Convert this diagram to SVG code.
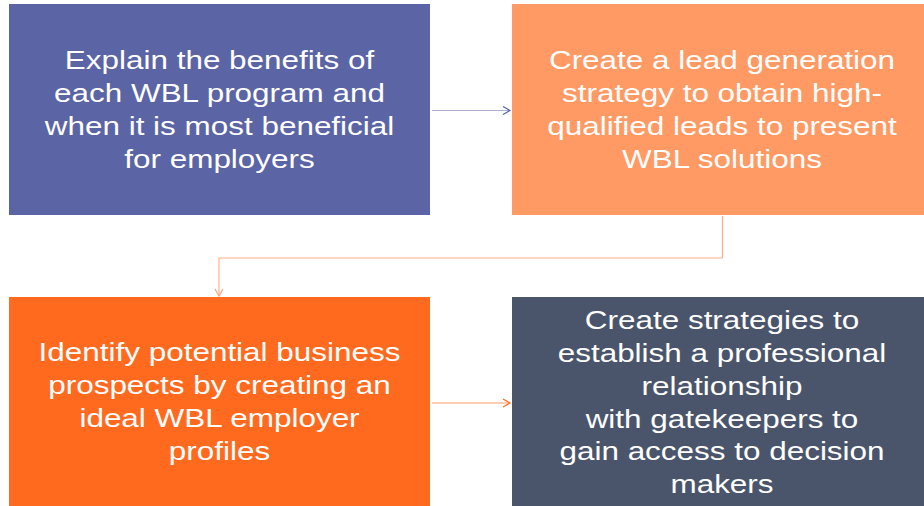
<svg xmlns="http://www.w3.org/2000/svg" width="924" height="506" viewBox="0 0 924 506">
<style>
.t{font-family:"Liberation Sans",Arial,sans-serif;font-size:26px;fill:#fff;text-anchor:middle}
.c{fill:none;stroke-width:1.2}
</style>
<defs>
<marker id="a1" markerWidth="10" markerHeight="10" refX="8" refY="5" orient="auto" markerUnits="userSpaceOnUse"><path d="M1,1 L8,5 L1,9" fill="none" stroke="#5b64a4" stroke-width="1.2"/></marker>
<marker id="a2" markerWidth="10" markerHeight="10" refX="8" refY="5" orient="auto" markerUnits="userSpaceOnUse"><path d="M1,1 L8,5 L1,9" fill="none" stroke="#ffa27a" stroke-width="1.2"/></marker>
<marker id="a3" markerWidth="10" markerHeight="10" refX="8" refY="5" orient="auto" markerUnits="userSpaceOnUse"><path d="M1,1 L8,5 L1,9" fill="none" stroke="#ff6a22" stroke-width="1.2"/></marker>
</defs>
<rect width="924" height="506" fill="#fff"/>
<g id="connectors">
<path class="c" d="M432,110.5 H510" stroke="#a9aed3" marker-end="url(#a1)"/>
<path class="c" d="M722.5,216 V258 H219 V296" stroke="#ffb08a" marker-end="url(#a2)"/>
<path class="c" d="M432,403 H510" stroke="#ff9a6a" marker-end="url(#a3)"/>
</g>
<g id="n1">
<rect x="9" y="4" width="421" height="211" fill="#5b64a4"/>
<text class="t" transform="translate(219.5,0) scale(1.21,1)"><tspan x="0" y="69.5">Explain the benefits of</tspan><tspan x="0" y="102.3">each WBL program and</tspan><tspan x="0" y="135.1">when it is most beneficial</tspan><tspan x="0" y="167.9">for employers</tspan></text>
</g>
<g id="n2">
<rect x="512" y="4" width="412" height="211" fill="#ff9a64"/>
<text class="t" transform="translate(722,0) scale(1.21,1)"><tspan x="0" y="69.5">Create a lead generation</tspan><tspan x="0" y="102.3">strategy to obtain high-</tspan><tspan x="0" y="135.1">qualified leads to present</tspan><tspan x="0" y="167.9">WBL solutions</tspan></text>
</g>
<g id="n3">
<rect x="9" y="297" width="421" height="209" fill="#ff6a1f"/>
<text class="t" transform="translate(219.5,0) scale(1.21,1)"><tspan x="0" y="361.3">Identify potential business</tspan><tspan x="0" y="394.1">prospects by creating an</tspan><tspan x="0" y="426.9">ideal WBL employer</tspan><tspan x="0" y="459.7">profiles</tspan></text>
</g>
<g id="n4">
<rect x="512" y="297" width="412" height="209" fill="#4a556b"/>
<text class="t" transform="translate(722,0) scale(1.21,1)"><tspan x="0" y="329.2">Create strategies to</tspan><tspan x="0" y="362">establish a professional</tspan><tspan x="0" y="394.8">relationship</tspan><tspan x="0" y="427.6">with gatekeepers to</tspan><tspan x="0" y="460.4">gain access to decision</tspan><tspan x="0" y="493.2">makers</tspan></text>
</g>
</svg>
